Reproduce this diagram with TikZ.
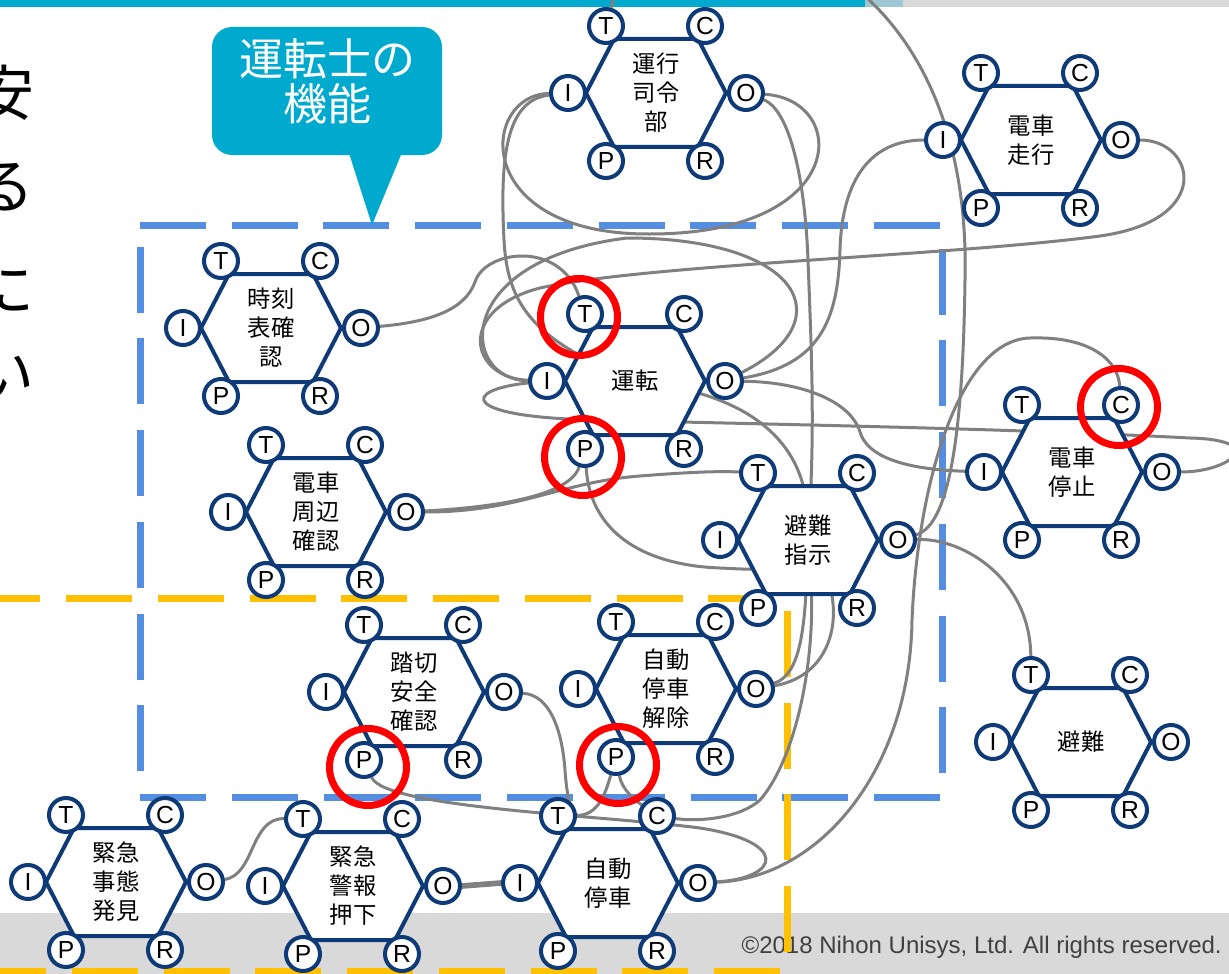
\documentclass[tikz,border=0pt]{standalone}
\usepackage{fontspec}
\setmainfont{Liberation Sans}
\newfontfamily\jp{Noto Sans CJK JP}
\definecolor{fblue}{RGB}{14,58,120}
\definecolor{lgray}{RGB}{128,128,128}
\definecolor{dashblue}{RGB}{84,142,226}
\definecolor{dashorange}{RGB}{255,192,0}
\definecolor{cyanbar}{RGB}{0,170,207}
\definecolor{barmid}{RGB}{160,200,212}
\definecolor{bandgray}{RGB}{217,217,217}
\definecolor{redring}{RGB}{255,0,0}
\definecolor{txtgray}{RGB}{64,64,64}
\pgfdeclarelayer{bg}\pgfdeclarelayer{lines}\pgfdeclarelayer{fg}
\pgfsetlayers{bg,lines,main,fg}
\tikzset{
 hexline/.style={draw=fblue, line width=3pt, fill=white, line join=miter},
 hextext/.style={align=center, inner sep=1pt, font={\jp\fontsize{17.5pt}{21.75pt}\selectfont}},
 asp/.style={circle, draw=fblue, line width=3pt, fill=white, minimum size=25.5pt, inner sep=0pt, font={\fontsize{18.5pt}{18.5pt}\selectfont}},
 conn/.style={draw=lgray, line width=2.25pt},
 ring/.style={circle, draw=redring, line width=5.25pt, minimum size=57.75pt, inner sep=0pt},
 bluedash/.style={draw=dashblue, line width=5.25pt, dash pattern=on 49.5pt off 19.3pt},
 orangedash/.style={draw=dashorange, line width=5.25pt, dash pattern=on 49.5pt off 19.3pt},
 bigjp/.style={inner sep=0pt, font={\jp\fontsize{45pt}{45pt}\selectfont}},
}
\newcommand\framfn[4]{%
  \draw[hexline] (#2-70,#3) -- (#2-42,#3-54) -- (#2+42,#3-54) -- (#2+70,#3) -- (#2+42,#3+54) -- (#2-42,#3+54) -- cycle;
  \node[hextext] (#1) at (#2,#3) {#4};
  \node[asp] (#1-T) at (#2-50,#3-67) {T};
  \node[asp] (#1-C) at (#2+49,#3-67) {C};
  \node[asp] (#1-I) at (#2-88,#3) {I};
  \node[asp] (#1-O) at (#2+90,#3) {O};
  \node[asp] (#1-P) at (#2-50,#3+68) {P};
  \node[asp] (#1-R) at (#2+49,#3+68) {R};
}
\begin{document}
\begin{tikzpicture}[x=0.75pt,y=-0.75pt]
\useasboundingbox (0,0) rectangle (1229,974);
\begin{pgfonlayer}{bg}
 \fill[white] (0,0) rectangle (1229,974);
 \fill[bandgray] (0,913) rectangle (1229,974);
 \fill[cyanbar] (0,0) rectangle (865,7);
 \fill[barmid] (865,0) rectangle (903,7);
 \fill[bandgray] (903,0) rectangle (1229,7);
 \node[anchor=base east, inner sep=0pt, text=txtgray, font={\fontsize{18pt}{18pt}\selectfont}] (copy) at (1222,953) {©2018 Nihon Unisys, Ltd. All rights reserved.};
 \node[bigjp] (lt1) at (4,93) {安};
 \node[bigjp] (lt2) at (4,187) {る};
 \node[bigjp] (lt3) at (4,290) {に};
 \node[bigjp] (lt4) at (4,376) {い};
 \draw[bluedash] (140,225) -- (942,225) -- (942,797) -- (140,797) -- cycle;
 \draw[orangedash] (-25.6,598) -- (787,598) -- (787,971) -- (-25.6,971) -- cycle;
\end{pgfonlayer}

\framfn{hq}{656}{93}{運行\\司令\\部}
\framfn{sokou}{1031}{140}{電車\\走行}
\framfn{jikoku}{271}{328}{時刻\\表確\\認}
\framfn{shuhen}{316}{512}{電車\\周辺\\確認}
\framfn{unten}{635}{381}{運転}
\framfn{shiji}{808}{540}{避難\\指示}
\framfn{teishi}{1072}{472}{電車\\停止}
\framfn{hinan}{1081}{742}{避難}
\framfn{fumi}{414}{692}{踏切\\安全\\確認}
\framfn{kaijo}{666}{689}{自動\\停車\\解除}
\framfn{jido}{608}{883}{自動\\停車}
\framfn{jitai}{116}{882}{緊急\\事態\\発見}
\framfn{keiho}{353}{886}{緊急\\警報\\押下}

\coordinate (topexit) at (865,-4);
\coordinate (topT) at (614,-3);

\begin{pgfonlayer}{lines}
\draw[conn] (hq-I) .. controls (480,95) and (470,235) .. (650,234) .. controls (850,234) and (850,100) .. (hq-O);
\draw[conn] (hq-I) .. controls (505,100) and (500,160) .. (504,240) .. controls (507,300) and (530,335) .. (unten);
\draw[conn] (hq-O) .. controls (790,110) and (805,180) .. (808,260) .. controls (811,340) and (815,420) .. (shiji);
\draw[conn] (hq-T) -- (topT);
\draw[conn] (shiji-O) .. controls (950,525) and (963,430) .. (965,280) .. controls (968,160) and (935,60) .. (topexit);
\draw[conn] (jido-O) .. controls (820,878) and (910,770) .. (912,620) .. controls (918,480) and (960,340) .. (1030,338) .. controls (1090,336) and (1118,360) .. (teishi-C);
\draw[conn] (teishi-O) .. controls (1230,472) and (1270,440) .. (1190,438) .. controls (1000,428) and (750,424) .. (600,420) .. controls (460,418) and (460,390) .. (unten-I);
\draw[conn] (unten-O) .. controls (800,382) and (850,400) .. (860,432) .. controls (870,465) and (930,470) .. (teishi-I);
\draw[conn] (unten-O) .. controls (820,365) and (838,320) .. (840,250) .. controls (842,180) and (870,140) .. (sokou-I);
\draw[conn] (unten-I) .. controls (460,380) and (450,260) .. (627,238) .. controls (800,238) and (845,320) .. (unten-O);
\draw[conn] (unten-I) .. controls (470,378) and (455,310) .. (540,288) .. controls (650,264) and (950,256) .. (1100,236) .. controls (1215,220) and (1195,140) .. (sokou-O);
\draw[conn] (jikoku-O) .. controls (430,322) and (465,310) .. (475,282) .. controls (485,250) and (560,240) .. (unten-T);
\draw[conn] (shuhen-O) .. controls (500,507) and (570,495) .. (unten-P);
\draw[conn] (shuhen-O) .. controls (520,512) and (560,482) .. (640,476) .. controls (690,472) and (720,471) .. (shiji-T);
\draw[conn] (unten-P) .. controls (590,530) and (640,565) .. (720,568) .. controls (745,569) and (770,572) .. (shiji);
\draw[conn] (unten) .. controls (760,400) and (805,450) .. (shiji);
\draw[conn] (shiji-O) .. controls (965,538) and (1030,580) .. (hinan-T);
\draw[conn] (shiji) .. controls (805,630) and (800,675) .. (kaijo-O);
\draw[conn] (shiji) .. controls (845,610) and (835,675) .. (kaijo-O);
\draw[conn] (shiji) .. controls (818,660) and (795,760) .. (760,800) .. controls (740,818) and (700,822) .. (jido-C);
\draw[conn] (jido-O) .. controls (780,878) and (790,842) .. (700,828) .. controls (600,815) and (385,808) .. (fumi-P);
\draw[conn] (fumi-O) .. controls (550,695) and (562,730) .. (565,770) .. controls (567,800) and (572,815) .. (jido-T);
\draw[conn] (kaijo-P) .. controls (605,795) and (598,815) .. (jido-T);
\draw[conn] (kaijo-P) .. controls (622,790) and (635,800) .. (jido-C);
\draw[conn] (jitai-O) .. controls (255,875) and (250,818) .. (keiho-T);
\draw[conn] ([yshift=1pt]keiho-O.east) -- ([yshift=1pt]jido-I.west);
\draw[conn] ([yshift=-1pt]keiho-O.east) -- ([yshift=-1pt]jido-I.west);
\end{pgfonlayer}

\begin{pgfonlayer}{fg}
 \node[ring] (rg1) at (579,317) {};
 \node[ring] (rg2) at (583,457) {};
 \node[ring] (rg3) at (1119,407) {};
 \node[ring] (rg4) at (368,767) {};
 \node[ring] (rg5) at (618,765) {};
 \fill[cyanbar, rounded corners=15pt] (212,27) rectangle (442,155);
 \fill[cyanbar] (348,150) -- (403,150) -- (372,225) -- cycle;
 \node[align=center, inner sep=0pt, text=white, font={\jp\fontsize{33pt}{34pt}\selectfont}] (callout) at (327,81) {運転士の\\機能};
\end{pgfonlayer}
\end{tikzpicture}
\end{document}
